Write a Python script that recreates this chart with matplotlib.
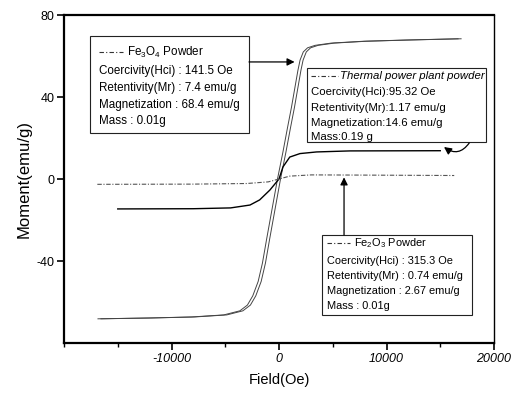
import matplotlib.pyplot as plt
from matplotlib.patches import Rectangle
from matplotlib.lines import Line2D
from matplotlib.ticker import MultipleLocator

plt.rcParams['font.family'] = ['Liberation Sans', 'DejaVu Sans']
plt.rcParams['mathtext.default'] = 'regular'
plt.rcParams['axes.unicode_minus'] = False

# Fe3O4 loop: field values of the two branches and the shared moment values
fe3o4_h_down = [-16840, -12140, -8140, -5140, -3640, -2940, -2440, -1940, -1540, -1140,
                -640, -140, 360, 790, 1160, 1460, 1760, 1960, 2260, 2660, 3360, 4860,
                7860, 11860, 16660]
fe3o4_h_up = [-16560, -11860, -7860, -4860, -3360, -2660, -2160, -1660, -1260, -860,
              -360, 140, 640, 1070, 1440, 1740, 2040, 2240, 2540, 2940, 3640, 5140,
              8140, 12140, 16940]
fe3o4_m = [-68.2, -67.8, -67.3, -66.3, -64.3, -61.5, -57.0, -50.0, -41.0, -29.0,
           -14.5, 0.0, 13.0, 25.0, 35.0, 44.0, 53.0, 58.0, 62.0, 64.0, 65.2, 66.3,
           67.2, 67.8, 68.4]

# thermal power plant powder
thermal_h = [-15000, -8000, -4500, -2700, -1800, -850, 0, 370, 1000, 1950, 3500, 6600, 15000]
thermal_m = [-14.6, -14.5, -14.1, -12.7, -10.2, -5.4, 0.0, 5.9, 10.7, 12.4, 13.2, 13.7, 13.8]

# Fe2O3 powder
fe2o3_h = [-16900, -8000, -3000, -1000, 0, 1000, 3000, 8000, 16300]
fe2o3_m = [-2.6, -2.5, -2.2, -1.4, 0.0, 1.4, 2.0, 1.9, 1.7]

fe3o4_info = ["Coercivity(Hci) : 141.5 Oe", "Retentivity(Mr) : 7.4 emu/g",
              "Magnetization : 68.4 emu/g", "Mass : 0.01g"]
thermal_info = ["Coercivity(Hci):95.32 Oe", "Retentivity(Mr):1.17 emu/g",
                "Magnetization:14.6 emu/g", "Mass:0.19 g"]
fe2o3_info = ["Coercivity(Hci) : 315.3 Oe", "Retentivity(Mr) : 0.74 emu/g",
              "Magnetization : 2.67 emu/g", "Mass : 0.01g"]

fig = plt.figure(figsize=(5.14, 3.96), dpi=100)
ax = fig.add_axes([64 / 514, 1 - 343 / 396, 430 / 514, 328 / 396])


def fx(px):
    return (px - 64) / 430


def fy(py):
    return (343 - py) / 328


# curves
ax.plot(fe3o4_h_down, fe3o4_m, color='#444444', lw=0.7)
ax.plot(fe3o4_h_up, fe3o4_m, color='#444444', lw=0.7)
ax.plot(thermal_h, thermal_m, color='black', lw=1.0)
ax.plot(fe2o3_h, fe2o3_m, color='#555555', lw=0.8, dashes=(4, 1.5, 1, 1.5))

ax.set_xlim(-20000, 20000)
ax.set_ylim(-80, 80)
ax.set_xticks([-10000, 0, 10000, 20000])
ax.xaxis.set_minor_locator(MultipleLocator(5000))
ax.set_yticks([-40, 0, 40, 80])
ax.tick_params(axis='both', which='major', direction='out', length=5, width=1.2,
               labelsize=9, pad=2)
ax.tick_params(axis='x', which='minor', direction='out', length=3, width=1.0)
for lab in ax.get_xticklabels():
    lab.set_style('italic')
for name, sp in ax.spines.items():
    sp.set_linewidth(1.0 if name == 'right' else 1.6)

ax.set_xlabel("Field(Oe)", fontsize=10.5, labelpad=6)
ax.set_ylabel("Moment(emu/g)", fontsize=12, labelpad=3)


def info_box(x0, x1, y0, y1, sx0, sx1, tx, rows, title, lines, size, italic=False):
    ax.add_patch(Rectangle((fx(x0), fy(y1)), fx(x1) - fx(x0), fy(y0) - fy(y1),
                           transform=ax.transAxes, facecolor='white',
                           edgecolor='#222222', lw=0.8, zorder=3))
    ax.add_line(Line2D([fx(sx0), fx(sx1)], [fy(rows[0]), fy(rows[0])],
                       transform=ax.transAxes, color='#333333', lw=0.8,
                       dashes=(4, 2, 1, 2), zorder=4))
    ax.text(fx(tx), fy(rows[0]), title, transform=ax.transAxes, fontsize=size,
            va='center', ha='left', style='italic' if italic else 'normal', zorder=4)
    for row, line in zip(rows[1:], lines):
        ax.text(fx(sx0), fy(row), line, transform=ax.transAxes, fontsize=size,
                va='center', ha='left', zorder=4)


info_box(90, 249, 36, 133, 99, 123, 127, [52, 71, 88, 105, 121],
         "Fe$_3$O$_4$ Powder", fe3o4_info, 8.4)
info_box(307, 486, 68, 142, 311, 338, 340, [76, 92, 108, 123, 137],
         "Thermal power plant powder", thermal_info, 8.2, italic=True)
info_box(322, 472, 235, 315, 327, 350, 354, [243, 261, 276, 291, 306],
         "Fe$_2$O$_3$ Powder", fe2o3_info, 7.9)

# arrows from the boxes to the curves
arrow = dict(arrowstyle='-|>', color='black', lw=0.9, mutation_scale=11, shrinkA=0, shrinkB=0)
ax.annotate('', xy=(1450, 57.1), xytext=(-2790, 57.1), arrowprops=arrow, zorder=5)
ax.annotate('', xy=(6050, 0.8), xytext=(6050, -27.3), arrowprops=arrow, zorder=5)
ax.annotate('', xy=(15350, 15.6), xytext=(17700, 17.6),
            arrowprops=dict(arrow, connectionstyle='arc3,rad=-0.5'), zorder=5)

fig.savefig("out.png", dpi=100)
